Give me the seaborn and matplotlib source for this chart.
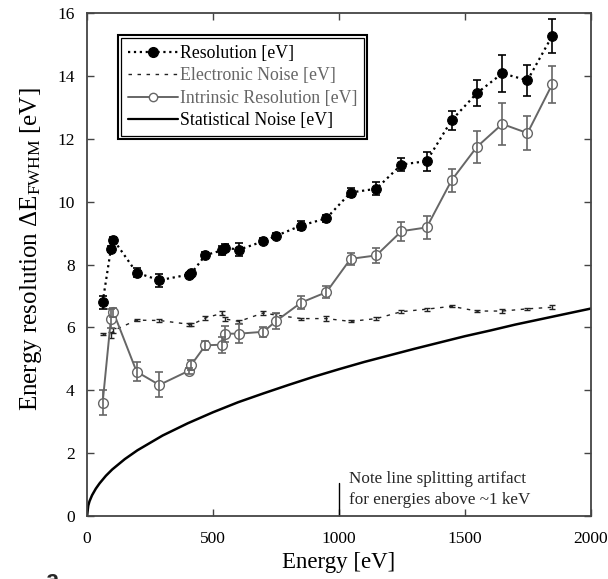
import matplotlib
matplotlib.use("Agg")
import matplotlib.pyplot as plt
import pandas as pd
import seaborn as sns
from matplotlib.lines import Line2D
from matplotlib.patches import Rectangle

# Photon energies of the measured lines [eV]
energy = [62, 95, 105, 197, 287, 404, 414, 470, 536, 546, 603, 700, 750,
          850, 950, 1046, 1148, 1248, 1348, 1447, 1547, 1648, 1748, 1846]

# Measured resolution (FWHM) and its uncertainty [eV]
resolution = [6.80, 8.50, 8.79, 7.74, 7.50, 7.68, 7.72, 8.30, 8.45, 8.54, 8.47, 8.74,
              8.91, 9.24, 9.47, 10.29, 10.41, 11.18, 11.29, 12.59, 13.45, 14.08, 13.86, 15.27]
resolution_err = [0.20, 0.10, 0.10, 0.15, 0.20, 0.05, 0.06, 0.10, 0.15, 0.12, 0.20, 0.10,
                  0.08, 0.15, 0.12, 0.15, 0.20, 0.20, 0.30, 0.30, 0.42, 0.58, 0.50, 0.55]

# Electronic (baseline) noise [eV]
electronic = [5.80, 5.76, 5.90, 6.23, 6.22, 6.10, 6.08, 6.30, 6.45, 6.27, 6.19, 6.46,
              6.39, 6.28, 6.28, 6.19, 6.28, 6.50, 6.58, 6.67, 6.52, 6.52, 6.59, 6.64]
electronic_err = [0.03, 0.10, 0.08, 0.03, 0.05, 0.05, 0.05, 0.05, 0.07, 0.07, 0.05, 0.07,
                  0.07, 0.03, 0.07, 0.03, 0.05, 0.05, 0.05, 0.03, 0.03, 0.05, 0.03, 0.07]

# Intrinsic resolution after noise subtraction [eV]
intrinsic = [3.60, 6.28, 6.48, 4.59, 4.17, 4.62, 4.81, 5.43, 5.45, 5.80, 5.80, 5.86,
             6.20, 6.79, 7.12, 8.18, 8.29, 9.06, 9.18, 10.68, 11.74, 12.47, 12.18, 13.73]
intrinsic_err = [0.40, 0.30, 0.15, 0.30, 0.40, 0.10, 0.15, 0.15, 0.25, 0.25, 0.30, 0.15,
                 0.25, 0.20, 0.20, 0.20, 0.25, 0.30, 0.37, 0.37, 0.50, 0.68, 0.55, 0.60]

# Statistical (Fano) noise curve [eV]
stat_energy = [0, 5, 10, 20, 35, 50, 75, 100, 150, 200, 300, 400, 500, 600, 700, 800,
               900, 1000, 1100, 1200, 1300, 1400, 1500, 1600, 1700, 1800, 1900, 2000]
stat_noise = [0.0, 0.33, 0.47, 0.66, 0.87, 1.04, 1.28, 1.48, 1.81, 2.09, 2.56, 2.95, 3.30,
              3.62, 3.90, 4.17, 4.43, 4.67, 4.90, 5.11, 5.32, 5.52, 5.72, 5.90, 6.09,
              6.26, 6.43, 6.60]

legend_labels = ["Resolution [eV]", "Electronic Noise [eV]",
                 "Intrinsic Resolution [eV]", "Statistical Noise [eV]"]
x_ticks = [0, 500, 1000, 1500, 2000]
y_ticks = [0, 2, 4, 6, 8, 10, 12, 14, 16]

sns.set_theme(style="ticks")
plt.rcParams["font.family"] = ["Liberation Serif", "DejaVu Serif"]
plt.rcParams["mathtext.fontset"] = "custom"
plt.rcParams["mathtext.rm"] = "Liberation Serif"
plt.rcParams["mathtext.it"] = "Liberation Serif:italic"

GRAY = "#666666"
DARK = "#222222"

df = pd.DataFrame({"energy": energy, "resolution": resolution,
                   "electronic": electronic, "intrinsic": intrinsic})
stat_df = pd.DataFrame({"energy": stat_energy, "noise": stat_noise})

fig = plt.figure(figsize=(6.08, 5.79), dpi=100)
ax = fig.add_axes([0.1431, 0.1088, 0.8289, 0.8687])

# statistical noise
sns.lineplot(data=stat_df, x="energy", y="noise", ax=ax, color="black",
             lw=1.8, legend=False, zorder=2)

# electronic noise
sns.lineplot(data=df, x="energy", y="electronic", ax=ax, color=DARK,
             lw=1.0, linestyle=(0, (2.5, 4)), legend=False, zorder=3)
ax.errorbar(energy, electronic, yerr=electronic_err, fmt="none", ecolor=DARK,
            elinewidth=1.0, capsize=2.0, capthick=1.0, zorder=3)

# intrinsic resolution
sns.lineplot(data=df, x="energy", y="intrinsic", ax=ax, color=GRAY, lw=1.4,
             marker="o", markersize=7, markerfacecolor="white",
             markeredgecolor=GRAY, markeredgewidth=1.0, legend=False, zorder=4)
ax.errorbar(energy, intrinsic, yerr=intrinsic_err, fmt="none", ecolor=GRAY,
            elinewidth=1.2, capsize=3.0, capthick=1.2, zorder=4)

# measured resolution
sns.lineplot(data=df, x="energy", y="resolution", ax=ax, color="black", lw=1.6,
             linestyle=":", marker="o", markersize=7, markerfacecolor="black",
             markeredgecolor="black", legend=False, zorder=5)
ax.errorbar(energy, resolution, yerr=resolution_err, fmt="none", ecolor="black",
            elinewidth=1.2, capsize=3.0, capthick=1.2, zorder=5)

# note about line splitting above ~1 keV
ax.plot([1000, 1000], [0, 1.05], color="black", lw=1.0)
ax.text(1040, 1.18, "Note line splitting artifact", fontsize=12.3,
        va="center", ha="left")
ax.text(1040, 0.50, "for energies above ~1 keV", fontsize=12.3,
        va="center", ha="left")

ax.set_xlim(0, 2000)
ax.set_ylim(0, 16)
ax.set_xticks(x_ticks)
ax.set_yticks(y_ticks)
ax.set_xticklabels([str(v) for v in x_ticks])
ax.set_yticklabels([str(v) for v in y_ticks])
ax.tick_params(axis="both", direction="in", top=True, right=True, length=5,
               width=1.0, color="#444444", labelsize=12.5, labelcolor="black")
ax.tick_params(axis="x", pad=11)
ax.tick_params(axis="y", pad=9)
for s in ax.spines.values():
    s.set_color("#444444")
    s.set_linewidth(1.3)

ax.set_xlabel("Energy [eV]", fontsize=16.5, color="black")
ax.set_ylabel("Energy resolution ΔE$_{\\mathregular{FWHM}}$ [eV]", fontsize=18,
              color="black")
ax.xaxis.set_label_coords(0.5, -0.072)
ax.yaxis.set_label_coords(-0.086, 0.53)

handles = [
    Line2D([], [], color="black", ls=":", lw=1.6, marker="o", ms=7),
    Line2D([], [], color=DARK, ls=(0, (2.5, 4)), lw=1.0),
    Line2D([], [], color=GRAY, lw=1.4, marker="o", ms=6, mfc="white", mec=GRAY),
    Line2D([], [], color="black", lw=1.6),
]
leg = ax.legend(handles, legend_labels, loc="upper left",
                bbox_to_anchor=(0.0675, 0.950), borderaxespad=0,
                frameon=True, fancybox=False, framealpha=1, edgecolor="black",
                handlelength=2.8, handletextpad=0.12, borderpad=0.38,
                labelspacing=0.31, fontsize=12.8)
leg.get_frame().set_linewidth(0.9)
for txt, col in zip(leg.get_texts(), ["black", GRAY, GRAY, "black"]):
    txt.set_color(col)

# double border around the legend
fig.canvas.draw()
bb = leg.get_window_extent()
pad = 3
outer = Rectangle((bb.x0 - pad, bb.y0 - pad), bb.width + 2 * pad, bb.height + 2 * pad,
                  transform=None, fill=False, edgecolor="black", lw=1.5, zorder=10)
fig.add_artist(outer)

# panel letter
fig.text(52 / 608, -0.014, "a", fontsize=17, fontweight="bold",
         family=["Liberation Sans", "DejaVu Sans"], ha="center", va="baseline")

fig.savefig("out.png", dpi=100)
